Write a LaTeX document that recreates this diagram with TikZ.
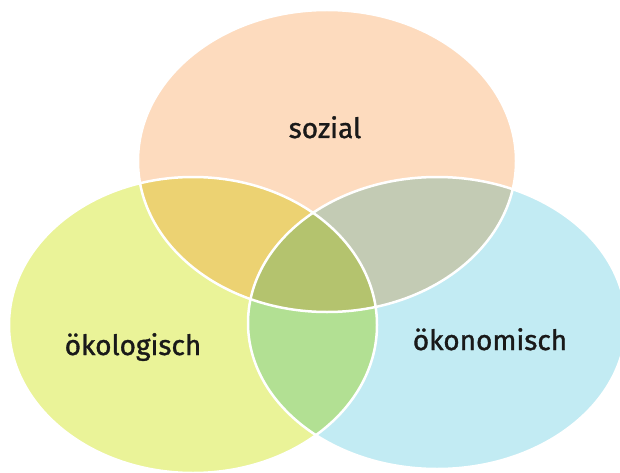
\documentclass[tikz,border=0pt]{standalone}
\usepackage{fontspec}
\setmainfont{Fira Sans}
\newfontfamily\lblfont{Fira Sans}[FakeBold=1.2]
\tikzset{
  lbl/.style={font=\lblfont\fontsize{28}{32}\selectfont, text=black!90, anchor=base},
  rim/.style={draw=white, line width=2.5pt}
}
\definecolor{sozcol}{HTML}{FDDBBE}
\definecolor{oekcol}{HTML}{EAF398}
\definecolor{oncol}{HTML}{C2EBF3}
\definecolor{sozoek}{HTML}{ECD272}
\definecolor{sozon}{HTML}{C3CBB4}
\definecolor{oekon}{HTML}{B2E093}
\definecolor{allcol}{HTML}{B4C36E}
\begin{document}
\begin{tikzpicture}[x=1pt, y=-1pt]
    \useasboundingbox (0,0) rectangle (620,473);

    % Centres
    \coordinate (soz) at (327,161);
    \coordinate (oek) at (193,325);
    \coordinate (on)  at (437,323);

    % Circles
    \fill[sozcol] (soz) ellipse [x radius=189, y radius=151];
    \fill[oekcol] (oek) ellipse [x radius=184, y radius=148];
    \fill[oncol]  (on)  ellipse [x radius=189, y radius=146];

    % Overlaps
    \begin{scope}
        \clip (soz) ellipse [x radius=189, y radius=151];
        \fill[sozoek] (oek) ellipse [x radius=184, y radius=148];
        \fill[sozon]  (on)  ellipse [x radius=189, y radius=146];
    \end{scope}
    \begin{scope}
        \clip (oek) ellipse [x radius=184, y radius=148];
        \fill[oekon] (on) ellipse [x radius=189, y radius=146];
        \clip (on) ellipse [x radius=189, y radius=146];
        \fill[allcol] (soz) ellipse [x radius=189, y radius=151];
    \end{scope}

    % Outlines
    \draw[rim] (soz) ellipse [x radius=189, y radius=151];
    \draw[rim] (oek) ellipse [x radius=184, y radius=148];
    \draw[rim] (on)  ellipse [x radius=189, y radius=146];

    % Labels
    \node[lbl] (sozial) at (325,138) {sozial};
    \node[lbl] (oekolog) at (133,355) {ökologisch};
    \node[lbl] (oekonom) at (490,350) {ökonomisch};
\end{tikzpicture}
\end{document}
